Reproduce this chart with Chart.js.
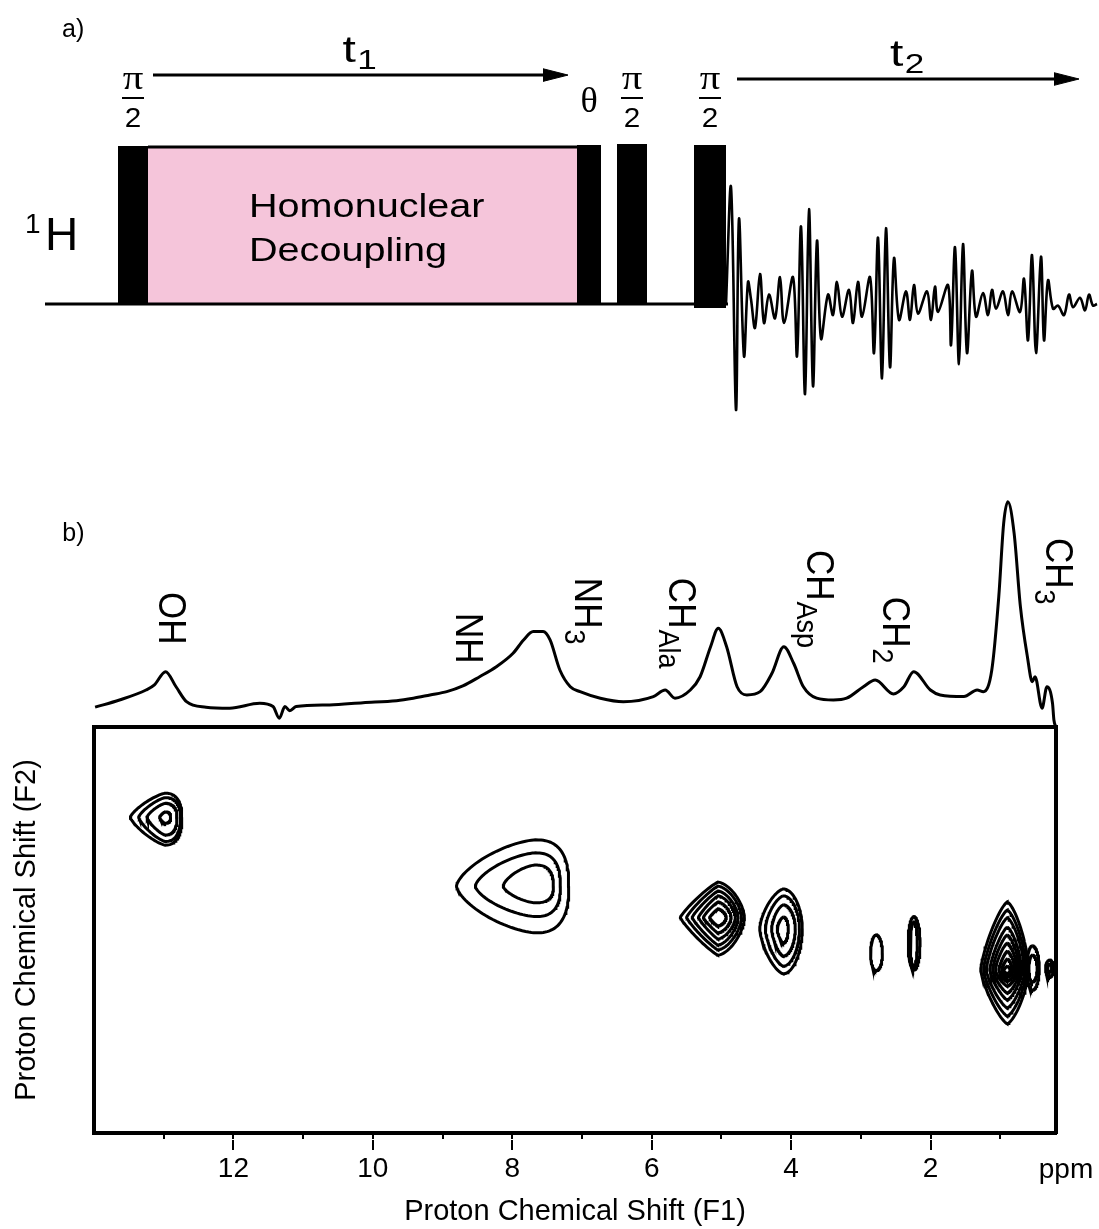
<!DOCTYPE html>
<html>
<head>
<meta charset="utf-8">
<script src="https://cdn.jsdelivr.net/npm/chart.js@4.4.1/dist/chart.umd.min.js"></script>
<style>
  body { margin: 0; background: #fff; }
  #wrap { position: relative; width: 1099px; height: 1229px; }
  canvas { position: absolute; left: 0; }
</style>
</head>
<body>
<div id="wrap">
  <canvas id="pulse" width="1099" height="430" style="top:0px"></canvas>
  <canvas id="contour" width="1099" height="509" style="top:720px"></canvas>
  <canvas id="spec" width="1099" height="267" style="top:460px"></canvas>
</div>
<script>
// a) pulse sequence, time in arbitrary units, amplitude relative to the pi/2 pulse
var baseLine = [45, 728];
var pulseStart = [118, 577, 617, 694];
var pulseEnd = [148, 601, 647, 726];
var pulseAmp = [1.0, 1.006, 1.013, 1.006];
var pulseFloor = [0, 0, 0, -0.025];
var pulseLabel = ['π/2', 'θ', 'π/2', 'π/2'];
var decoupleSpan = [148, 577];
var decoupleAmp = 0.994;
var arrowStart = [153, 737];
var arrowEnd = [568, 1079];
var arrowAmp = [1.449, 1.424];
var arrowLabel = ['1', '2'];

// acquired FID after the last pulse
var fidT = [726, 731, 736, 739, 744, 748, 751, 755, 760, 764, 769, 775, 780, 784, 793, 797, 801, 805, 809, 813,
  817, 821, 828, 833, 837, 842, 849, 853, 858, 862, 870, 874, 878, 882, 886, 890, 894, 899, 906, 910,
  914, 918, 927, 931, 935, 938, 948, 951, 955, 959, 963, 967, 972, 976, 983, 988, 992, 996, 1003, 1008,
  1012, 1020, 1024, 1028, 1032, 1036, 1041, 1044, 1048, 1053, 1058, 1064, 1069, 1073, 1080, 1085, 1089, 1093, 1097];
var fidA = [0, 0.74, -0.67, 0.54, -0.33, 0.14, 0.03, -0.15, 0.19, -0.12, 0.06, -0.09, 0.17, -0.12, 0.17, -0.33, 0.49, -0.57, 0.60, -0.52,
  0.40, -0.22, 0.06, -0.07, 0.14, -0.08, 0.09, -0.12, 0.14, -0.08, 0.17, -0.31, 0.42, -0.47, 0.48, -0.40, 0.29, -0.10, 0.08, -0.10,
  0.12, -0.06, 0.08, -0.10, 0.11, -0.05, 0.12, -0.26, 0.36, -0.38, 0.38, -0.31, 0.21, -0.08, 0.07, -0.07, 0.09, -0.03, 0.08, -0.07,
  0.08, -0.05, 0.16, -0.23, 0.31, -0.31, 0.30, -0.23, 0.15, -0.03, -0.01, -0.07, 0.06, -0.02, 0.04, -0.04, 0.06, -0.01, 0];

// b) 1D projection (ppm, relative intensity, CH3 = 100)
var specPPM = [13.97, 13.62, 13.24, 13.12, 12.96, 12.81, 12.66, 12.38, 12.04, 11.61, 11.42, 11.33, 11.25, 11.18, 11.09, 10.61, 10.13, 9.65, 9.41, 9.17,
  8.93, 8.70, 8.46, 8.22, 7.98, 7.83, 7.69, 7.55, 7.45, 7.31, 7.16, 7.02, 6.73, 6.40, 5.97, 5.80, 5.66, 5.44, 5.30, 5.15,
  5.04, 4.92, 4.77, 4.63, 4.44, 4.27, 4.10, 3.96, 3.82, 3.63, 3.39, 3.20, 2.96, 2.79, 2.53, 2.38, 2.24, 2.00, 1.86, 1.52,
  1.33, 1.24, 1.12, 1.02, 0.95, 0.89, 0.80, 0.71, 0.61, 0.54, 0.50, 0.40, 0.33, 0.25, 0.23, 0.20];
var specInt = [-0.6, 2.9, 7.8, 10.3, 16.8, 9.4, 2.1, -0.6, -1.1, 1.3, -0.3, -6.0, -0.3, -2.3, -0.3, 0.5, 1.6, 2.6, 3.8, 5.4,
  7.0, 9.8, 14.3, 19.2, 25.8, 32.3, 36.4, 36.4, 32.3, 17.6, 9.4, 7.0, 3.8, 2.1, 4.6, 7.8, 3.8, 7.8, 14.3, 29.0,
  38.0, 29.0, 9.4, 5.4, 7.0, 16.0, 29.0, 20.9, 9.4, 3.8, 2.9, 3.8, 9.4, 12.7, 5.9, 9.4, 16.8, 7.8, 5.4, 4.6,
  7.8, 7.0, 17.6, 53.5, 89.4, 100, 84.5, 48.6, 24.1, 11.9, 14.3, -1.1, 9.4, 1.3, -6.9, -10.3];

// 2D peaks: F1 in ppm, F2 in arbitrary units (axis has no ticks)
var peakName = ['OH', 'NH', 'CH', 'CHAsp', 'CH2a', 'CH2b', 'CH3', 'CH3b', 'CH3c'];
var peakF1 = [12.98, 7.67, 5.05, 4.11, 2.78, 2.24, 0.90, 0.54, 0.29];
var peakF2 = [7.78, 6.08, 5.31, 5.04, 4.43, 4.68, 4.02, 4.06, 4.06];
// contour rings: peak index and extents (left/right in ppm, top/bottom in F2)
var ringPeak = [0, 0, 0, 0, 1, 1, 1, 2, 2, 2, 2, 2, 2, 3, 3, 3, 3, 4, 5, 5, 6, 6, 6, 6, 6, 6, 6, 6, 6, 7, 7, 8, 8];
var ringLeft = [13.48, 13.36, 13.24, 13.06, 8.80, 8.53, 8.13, 5.59, 5.50, 5.42, 5.33, 5.26, 5.17, 4.45, 4.37, 4.28, 4.20, 2.86, 2.32, 2.29,
  1.28, 1.24, 1.20, 1.15, 1.11, 1.07, 1.02, 0.98, 0.95, 0.62, 0.59, 0.35, 0.32];
var ringRight = [12.74, 12.76, 12.81, 12.90, 7.19, 7.31, 7.41, 4.67, 4.71, 4.76, 4.80, 4.86, 4.93, 3.84, 3.88, 3.94, 4.04, 2.69, 2.15, 2.19,
  0.59, 0.62, 0.65, 0.69, 0.72, 0.75, 0.78, 0.82, 0.85, 0.44, 0.47, 0.24, 0.26];
var ringTop = [8.37, 8.26, 8.12, 7.91, 7.22, 6.90, 6.60, 6.18, 6.08, 5.96, 5.84, 5.69, 5.52, 6.01, 5.84, 5.62, 5.32, 4.88, 5.33, 5.20,
  5.69, 5.49, 5.30, 5.07, 4.88, 4.68, 4.48, 4.29, 4.11, 4.61, 4.38, 4.26, 4.16];
var ringBottom = [7.09, 7.18, 7.34, 7.63, 4.93, 5.33, 5.67, 4.38, 4.51, 4.63, 4.78, 4.93, 5.10, 3.92, 4.11, 4.36, 4.68, 4.00, 4.02, 4.10,
  2.69, 2.88, 3.08, 3.28, 3.45, 3.62, 3.74, 3.84, 3.92, 3.52, 3.72, 3.84, 3.97];

var majorTicks = [12, 10, 8, 6, 4, 2];
var allTicks = [13, 12, 11, 10, 9, 8, 7, 6, 5, 4, 3, 2, 1];

// contour outline roundness per peak (1 = diamond, 2 = ellipse), left and right half
var shapeL = [1.3, 1.5, 1.15, 1.5, 2, 2, 1.3, 2, 2];
var shapeR = [2.4, 2.6, 1.6, 1.9, 2, 2, 1.45, 2, 2];

var SANS = "'Liberation Sans', Arial, Helvetica, sans-serif";
var SERIF = "'Liberation Serif', 'Times New Roman', serif";
Chart.defaults.font.family = SANS;
Chart.defaults.color = '#000';

function txt(ctx, s, x, y, font, opt) {
  opt = opt || {};
  ctx.save();
  ctx.translate(x, y);
  if (opt.rot) ctx.rotate(opt.rot);
  ctx.scale(opt.sx || 1, opt.sy || 1);
  ctx.font = font;
  ctx.fillStyle = '#000';
  ctx.textAlign = opt.align || 'left';
  ctx.textBaseline = 'alphabetic';
  ctx.fillText(s, 0, 0);
  var w = ctx.measureText(s).width;
  if (opt.sub) {
    ctx.font = opt.subFont;
    ctx.textAlign = 'left';
    ctx.fillText(opt.sub, w + (opt.gap || 0), opt.drop);
  }
  ctx.restore();
}

function line(pts, extra) {
  var d = {
    data: pts, borderColor: '#000', borderWidth: 3, pointRadius: 0,
    tension: 0, fill: false
  };
  for (var k in extra) d[k] = extra[k];
  return d;
}

// ---------- a) pulse sequence ----------
var pulseSets = [];
pulseSets.push(line([{x: baseLine[0], y: 0}, {x: baseLine[1], y: 0}]));
pulseSets.push(line([{x: decoupleSpan[0], y: decoupleAmp}, {x: decoupleSpan[1], y: decoupleAmp}],
  {fill: 'origin', backgroundColor: '#f5c5da', borderWidth: 3}));
pulseStart.forEach(function (s, i) {
  pulseSets.push(line([{x: s, y: pulseAmp[i]}, {x: pulseEnd[i], y: pulseAmp[i]}],
    {fill: {value: pulseFloor[i]}, backgroundColor: '#000', borderWidth: 0}));
});
pulseSets.push(line(fidT.map(function (t, i) { return {x: t, y: fidA[i]}; }), {borderWidth: 2.6, tension: 0.35}));
arrowStart.forEach(function (s, i) {
  pulseSets.push(line([{x: s, y: arrowAmp[i]}, {x: arrowEnd[i] - 10, y: arrowAmp[i]}], {borderWidth: 3}));
  pulseSets.push(line([{x: arrowEnd[i] - 25, y: arrowAmp[i] + 0.04}, {x: arrowEnd[i], y: arrowAmp[i]},
    {x: arrowEnd[i] - 25, y: arrowAmp[i] - 0.04}], {fill: 'shape', backgroundColor: '#000', borderWidth: 1}));
});

var pulseText = {
  id: 'pulseText',
  afterDatasetsDraw: function (chart) {
    var ctx = chart.ctx, X = chart.scales.x, Y = chart.scales.y;
    txt(ctx, 'a)', X.getPixelForValue(62), Y.getPixelForValue(1.69), '25px ' + SANS);
    pulseStart.forEach(function (s, i) {
      var cx = X.getPixelForValue((s + pulseEnd[i]) / 2);
      if (pulseLabel[i] === 'θ') {
        txt(ctx, 'θ', cx, Y.getPixelForValue(1.215), '36px ' + SERIF, {align: 'center'});
      } else {
        txt(ctx, 'π', cx, Y.getPixelForValue(1.361), '34px ' + SERIF, {align: 'center', sx: 1.2});
        var by = Y.getPixelForValue(1.304);
        ctx.save();
        ctx.strokeStyle = '#000';
        ctx.lineWidth = 2;
        ctx.beginPath();
        ctx.moveTo(cx - 11, by);
        ctx.lineTo(cx + 11, by);
        ctx.stroke();
        ctx.restore();
        txt(ctx, '2', cx, Y.getPixelForValue(1.12), '27px ' + SANS, {align: 'center', sx: 1.1});
      }
    });
    arrowStart.forEach(function (s, i) {
      var mid = (s + arrowEnd[i]) / 2;
      txt(ctx, 't', X.getPixelForValue(mid - 18), Y.getPixelForValue(arrowAmp[i] + 0.08), '37px ' + SANS,
        {sx: 1.3, sub: arrowLabel[i], subFont: '27px ' + SANS, drop: 7, gap: 1});
    });
    txt(ctx, '1', X.getPixelForValue(25), Y.getPixelForValue(0.449), '28px ' + SANS);
    txt(ctx, 'H', X.getPixelForValue(45), Y.getPixelForValue(0.342), '46px ' + SANS);
    var dx = X.getPixelForValue(249);
    txt(ctx, 'Homonuclear', dx, Y.getPixelForValue(0.551), '33px ' + SANS, {sx: 1.2});
    txt(ctx, 'Decoupling', dx, Y.getPixelForValue(0.272), '33px ' + SANS, {sx: 1.2});
  }
};

new Chart(document.getElementById('pulse'), {
  type: 'line',
  data: {datasets: pulseSets},
  options: {
    responsive: false, animation: false, events: [],
    layout: {padding: 0},
    plugins: {legend: {display: false}, tooltip: {enabled: false}},
    scales: {
      x: {type: 'linear', min: 0, max: 1099, display: false},
      y: {type: 'linear', min: -0.797, max: 1.924, display: false}
    }
  },
  plugins: [pulseText]
});

// ---------- b) 1D spectrum on top ----------
var specLabels = [
  {main: 'OH', sub: '', ppm: 13.05, h: 55.8},
  {main: 'NH', sub: '', ppm: 8.80, h: 45.5},
  {main: 'NH', sub: '3', ppm: 7.09, h: 62.7},
  {main: 'CH', sub: 'Ala', ppm: 5.745, h: 62.7},
  {main: 'CH', sub: 'Asp', ppm: 3.765, h: 76.4},
  {main: 'CH', sub: '2', ppm: 2.674, h: 53.4},
  {main: 'CH', sub: '3', ppm: 0.35, h: 82.2}
];

var specText = {
  id: 'specText',
  afterDatasetsDraw: function (chart) {
    var ctx = chart.ctx, X = chart.scales.x, Y = chart.scales.y;
    txt(ctx, 'b)', X.getPixelForValue(14.44), Y.getPixelForValue(80.8), '25px ' + SANS);
    specLabels.forEach(function (l) {
      txt(ctx, l.main, X.getPixelForValue(l.ppm), Y.getPixelForValue(l.h), '35px ' + SANS,
        {rot: Math.PI / 2, sy: 1.12, sub: l.sub, subFont: '27px ' + SANS, drop: 9, gap: 1});
    });
  }
};

new Chart(document.getElementById('spec'), {
  type: 'line',
  data: {datasets: [line(specPPM.map(function (p, i) { return {x: p, y: specInt[i]}; }),
    {borderWidth: 3, cubicInterpolationMode: 'monotone', clip: false})]},
  options: {
    responsive: false, animation: false, events: [],
    layout: {padding: {left: 93, right: 43, top: 0, bottom: 0}},
    plugins: {legend: {display: false}, tooltip: {enabled: false}},
    scales: {
      x: {type: 'linear', reverse: true, min: 0.2, max: 14, display: false},
      y: {type: 'linear', min: -10.3, max: 120.4, display: false}
    }
  },
  plugins: [specText]
});

// ---------- b) 2D contour plot ----------
function ringPoints(r) {
  var p = ringPeak[r], cx = peakF1[p], cy = peakF2[p], pts = [];
  for (var k = 0; k <= 120; k++) {
    var t = k / 120 * 2 * Math.PI;
    var c = Math.cos(t), s = Math.sin(t);
    var n = c < 0 ? shapeL[p] : shapeR[p];
    var ex = Math.pow(Math.abs(c), 2 / n), ey = Math.pow(Math.abs(s), 2 / n);
    var x = c < 0 ? cx + ex * (ringLeft[r] - cx) : cx - ex * (cx - ringRight[r]);
    var y = s > 0 ? cy + ey * (ringTop[r] - cy) : cy - ey * (cy - ringBottom[r]);
    pts.push({x: x, y: y});
  }
  return pts;
}

var ringSets = ringPeak.map(function (p, r) {
  return line(ringPoints(r), {borderWidth: 3});
});

var frame = {
  display: true,
  ticks: {display: false},
  grid: {display: false, drawTicks: false},
  border: {display: true, width: 4, color: '#000'}
};
function withFrame(extra) {
  var o = JSON.parse(JSON.stringify(frame));
  for (var k in extra) o[k] = extra[k];
  return o;
}

var ppmText = {
  id: 'ppmText',
  afterDraw: function (chart) {
    var a = chart.chartArea;
    txt(chart.ctx, 'ppm', a.right + 10, a.bottom + 45, '28px ' + SANS, {align: 'center'});
  }
};

new Chart(document.getElementById('contour'), {
  type: 'line',
  data: {datasets: ringSets},
  options: {
    responsive: false, animation: false, events: [],
    layout: {padding: {top: 7, left: 0, right: 0, bottom: 0}},
    plugins: {legend: {display: false}, tooltip: {enabled: false}},
    scales: {
      x: {
        type: 'linear', position: 'bottom', weight: 0, reverse: true, min: 0.2, max: 14,
        ticks: {display: false},
        grid: {display: true, drawOnChartArea: false, drawTicks: true, tickLength: 6, lineWidth: 2, color: '#000'},
        border: {display: true, width: 4, color: '#000'},
        afterBuildTicks: function (s) { s.ticks = allTicks.map(function (v) { return {value: v}; }); },
        afterFit: function (s) { s.height = 7; }
      },
      xMaj: {
        type: 'linear', position: 'bottom', weight: 1, reverse: true, min: 0.2, max: 14, display: true,
        ticks: {display: true, padding: 2, font: {size: 28}, color: '#000',
          callback: function (v) { return String(v); }},
        grid: {display: true, drawOnChartArea: false, drawTicks: true, tickLength: 10, lineWidth: 2, color: '#000'},
        border: {display: false},
        title: {display: true, text: 'Proton Chemical Shift (F1)', font: {size: 29}, color: '#000',
          padding: {top: 0, bottom: 0}},
        afterBuildTicks: function (s) { s.ticks = majorTicks.map(function (v) { return {value: v}; }); },
        afterFit: function (s) { s.height = 89; }
      },
      xTop: withFrame({type: 'linear', position: 'top', min: 0.2, max: 14, reverse: true,
        afterFit: function (s) { s.height = 0; }}),
      y: {
        type: 'linear', position: 'left', min: 0, max: 10, display: true,
        ticks: {display: false},
        grid: {display: false, drawTicks: false},
        border: {display: true, width: 4, color: '#000'},
        title: {display: true, text: 'Proton Chemical Shift (F2)', font: {size: 29}, color: '#000',
          padding: {top: 10, bottom: 0}},
        afterFit: function (s) { s.width = 94; }
      },
      y2: withFrame({type: 'linear', position: 'right', min: 0, max: 10,
        afterFit: function (s) { s.width = 43; }})
    }
  },
  plugins: [ppmText]
});
</script>
</body>
</html>
